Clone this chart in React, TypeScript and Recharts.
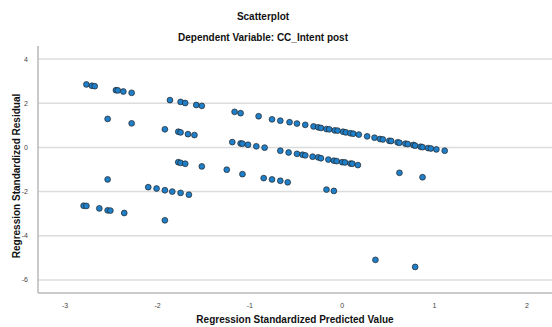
import { ScatterChart, Scatter, XAxis, YAxis, ReferenceLine } from 'recharts'

// Nuage des résidus standardisés (SPSS)
const predicted = [
  -2.77, -2.71, -2.68, -2.45, -2.43, -2.37, -2.28,
  -2.54, -2.28,
  -1.865, -1.75, -1.7, -1.58, -1.52,
  -1.92, -1.775, -1.75, -1.67, -1.6,
  -1.775, -1.75, -1.7, -1.52, -1.25,
  -2.54,
  -2.1, -2.01, -1.92, -1.84, -1.75, -1.66,
  -2.8, -2.77, -2.63, -2.54, -2.51, -2.36,
  -1.92,
  -1.165, -1.1, -0.905, -0.76, -0.67, -0.57, -0.49, -0.4, -0.31, -0.26, -0.23, -0.17, -0.14,
  -0.08, -0.05, 0.01, 0.04, 0.09, 0.12, 0.18, 0.27, 0.35, 0.41, 0.44, 0.51, 0.53, 0.6, 0.62,
  0.685, 0.71, 0.77, 0.79, 0.85, 0.87, 0.93, 0.96, 1.02, 1.11,
  -1.19, -1.1, -1.08, -1.02, -0.93, -0.84, -0.67, -0.58, -0.49, -0.43, -0.4, -0.32, -0.26,
  -0.23, -0.15, -0.09, -0.06, 0.0, 0.03, 0.09, 0.11, 0.17,
  -1.08, -0.85, -0.76, -0.67, -0.59, -0.17, -0.09, 0.62, 0.87,
  0.36, 0.79,
]
const residual = [
  2.85, 2.79, 2.77, 2.59, 2.58, 2.53, 2.47,
  1.29, 1.09,
  2.14, 2.06, 2.01, 1.92, 1.88,
  0.82, 0.71, 0.68, 0.6, 0.56,
  -0.67, -0.7, -0.74, -0.86, -1.01,
  -1.45,
  -1.8, -1.86, -1.94, -2.0, -2.06, -2.14,
  -2.64, -2.65, -2.76, -2.85, -2.86, -2.97,
  -3.3,
  1.61, 1.55, 1.41, 1.27, 1.21, 1.14, 1.08, 1.02, 0.95, 0.91, 0.88, 0.83, 0.82,
  0.77, 0.76, 0.71, 0.68, 0.64, 0.62, 0.58, 0.5, 0.44, 0.38, 0.36, 0.3, 0.29, 0.23, 0.21,
  0.17, 0.15, 0.11, 0.08, 0.03, 0.01, -0.03, -0.05, -0.09, -0.15,
  0.24, 0.18, 0.17, 0.12, 0.05, -0.01, -0.15, -0.23, -0.29, -0.33, -0.36, -0.42, -0.45,
  -0.49, -0.55, -0.6, -0.62, -0.67, -0.68, -0.73, -0.74, -0.8,
  -1.21, -1.39, -1.45, -1.51, -1.58, -1.91, -1.97, -1.15, -1.35,
  -5.09, -5.41,
]
const xTicks = [-3, -2, -1, 0, 1, 2]
const yTicks = [-6, -4, -2, 0, 2, 4]

const points = predicted.map((x, i) => ({ x, y: residual[i] }))

const FONT = 'Arial, "Liberation Sans", sans-serif'
const tickStyle = { fontSize: 7, fill: '#444', fontFamily: FONT }
const labelStyle: React.CSSProperties = {
  position: 'absolute', fontFamily: FONT, fontWeight: 'bold', fontSize: 10, color: '#111', whiteSpace: 'nowrap',
}

export default function App() {
  return (
    <div style={{ position: 'absolute', left: 0, top: 0, width: 552, height: 327, background: '#fff', overflow: 'hidden' }}>
      <div style={{ ...labelStyle, left: 0, width: 526, top: 11, textAlign: 'center' }}>Scatterplot</div>
      <div style={{ ...labelStyle, left: 0, width: 526, top: 32, textAlign: 'center' }}>Dependent Variable: CC_Intent post</div>
      <div style={{ ...labelStyle, left: 16, top: 176, transform: 'translate(-50%, -50%) rotate(-90deg)' }}>
        Regression Standardized Residual
      </div>
      <div style={{ ...labelStyle, left: 38, width: 514, top: 314, textAlign: 'center' }}>
        Regression Standardized Predicted Value
      </div>
      <div style={{ position: 'absolute', left: 0, top: 0 }}>
        <ScatterChart width={552} height={327} margin={{ top: 46, right: 0, bottom: 0, left: 0 }}>
          <XAxis type="number" dataKey="x" domain={[-3.294, 2.272]} ticks={xTicks} height={34}
            tickLine={false} tickMargin={4} tick={tickStyle} axisLine={{ stroke: '#b8b8b8', strokeWidth: 1.5 }}
            allowDataOverflow />
          <YAxis type="number" dataKey="y" domain={[-6.59, 4.59]} ticks={yTicks} width={38}
            tickLine={false} tickMargin={4} tick={tickStyle} axisLine={{ stroke: '#b8b8b8', strokeWidth: 1.5 }}
            allowDataOverflow />
          {yTicks.map((t) => (
            <ReferenceLine key={t} y={t} stroke="#dcdcdc" strokeWidth={1.5} />
          ))}
          <Scatter data={points} fill="#1f7fc8" stroke="#222" strokeWidth={0.7} isAnimationActive={false}
            shape={(p: any) => <circle cx={p.cx} cy={p.cy} r={2.9} fill="#1f7fc8" stroke="#222" strokeWidth={0.7} />} />
        </ScatterChart>
      </div>
    </div>
  )
}
